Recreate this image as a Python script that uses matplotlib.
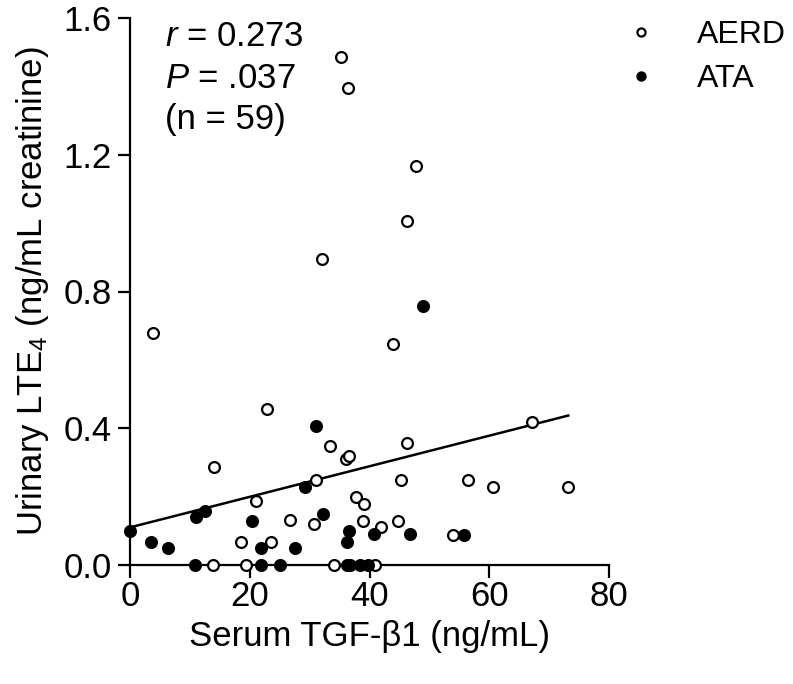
import numpy as np
import matplotlib
matplotlib.use("Agg")
import matplotlib.pyplot as plt

plt.rcParams['font.family'] = ['Liberation Sans', 'DejaVu Sans']
plt.rcParams['mathtext.fontset'] = 'custom'
plt.rcParams['mathtext.rm'] = 'Liberation Sans'
plt.rcParams['mathtext.it'] = 'Liberation Sans:italic'

# AERD (open circles)
aerd_x = [35.3, 36.4, 47.7, 46.2, 32.1, 3.9, 44.0, 22.9, 67.2, 46.2,
          33.4, 36.0, 36.6, 14.1, 31.0, 45.3, 56.5, 60.6, 73.2, 37.7,
          39.1, 21.0, 26.7, 30.8, 38.9, 41.9, 44.8, 18.6, 23.6, 53.9,
          13.9, 19.4, 34.1, 41.0]
aerd_y = [1.485, 1.395, 1.166, 1.007, 0.896, 0.678, 0.647, 0.457, 0.418, 0.358,
          0.348, 0.309, 0.319, 0.288, 0.249, 0.249, 0.249, 0.227, 0.227, 0.198,
          0.179, 0.188, 0.132, 0.119, 0.130, 0.110, 0.130, 0.068, 0.068, 0.088,
          0.0, 0.0, 0.0, 0.0]

# ATA (filled circles)
ata_x = [48.9, 31.1, 29.3, 0.0, 3.5, 6.3, 11.1, 12.5, 20.3, 21.9,
         32.3, 36.5, 36.3, 40.8, 46.7, 27.5, 55.7,
         10.8, 21.9, 25.0, 36.2, 36.8, 38.4, 39.7]
ata_y = [0.758, 0.408, 0.227, 0.100, 0.068, 0.051, 0.139, 0.159, 0.130, 0.051,
         0.148, 0.100, 0.068, 0.090, 0.090, 0.051, 0.088,
         0.0, 0.0, 0.0, 0.0, 0.0, 0.0, 0.0]

# regression line (intercept, slope)
fit_intercept = 0.110
fit_slope = 0.00447

FS = 25
W, H = 793, 684
fig = plt.figure(figsize=(W / 100, H / 100), dpi=100)
ax = fig.add_axes([130 / W, 1 - 565 / H, (609 - 130) / W, (565 - 18) / H])

xs = np.array([0, 73.2])
ax.plot(xs, fit_intercept + fit_slope * xs, color='black', lw=1.8, zorder=2)

ax.plot(aerd_x, aerd_y, 'o', ms=7.8, mfc='white', mec='black', mew=1.6,
        linestyle='none', clip_on=False, zorder=3, label='AERD')
ax.plot(ata_x, ata_y, 'o', ms=7.8, mfc='black', mec='black', mew=1.6,
        linestyle='none', clip_on=False, zorder=3, label='ATA')

ax.set_xlim(0, 80)
ax.set_ylim(0, 1.6)
ax.set_xticks([0, 20, 40, 60, 80])
ax.set_yticks([0.0, 0.4, 0.8, 1.2, 1.6])
ax.set_yticklabels(['0.0', '0.4', '0.8', '1.2', '1.6'])
for s in ['top', 'right']:
    ax.spines[s].set_visible(False)
for s in ['left', 'bottom']:
    ax.spines[s].set_linewidth(1.6)
ax.tick_params(width=1.6, length=9, labelsize=FS, pad=4)
ax.tick_params(axis='x', pad=2)

ax.set_xlabel('Serum TGF-β1 (ng/mL)', fontsize=FS, labelpad=5)
ax.set_ylabel('Urinary LTE$_4$ (ng/mL creatinine)', fontsize=FS, labelpad=9)

ax.text(165 / W, 1 - 37 / H, r'$\it{r}$ = 0.273', transform=fig.transFigure,
        fontsize=FS, va='center', ha='left')
ax.text(165 / W, 1 - 78 / H, r'$\it{P}$ = .037', transform=fig.transFigure,
        fontsize=FS, va='center', ha='left')
ax.text(165 / W, 1 - 119 / H, '(n = 59)', transform=fig.transFigure,
        fontsize=FS, va='center', ha='left')

leg = ax.legend(loc='upper left', bbox_to_anchor=(627 / W, 1 - 20 / H),
                bbox_transform=fig.transFigure, frameon=False, fontsize=23,
                markerscale=0.75, handlelength=0.9, handletextpad=1.3,
                labelspacing=0.45, borderaxespad=0, borderpad=0)

fig.savefig('out.png', dpi=100)
